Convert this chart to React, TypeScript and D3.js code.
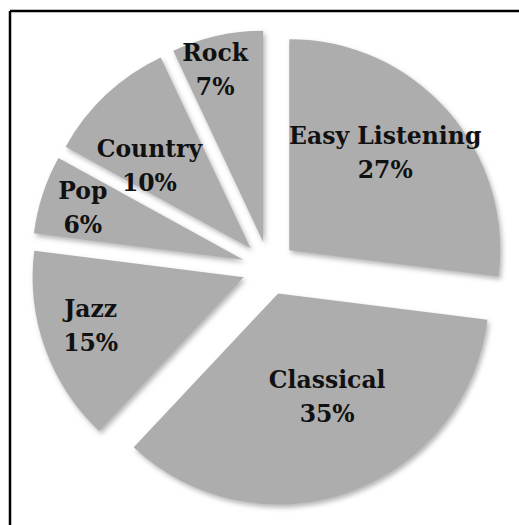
import React from "react";
import * as d3 from "d3";

const categories = ["Easy Listening", "Classical", "Jazz", "Pop", "Country", "Rock"];
const shares = [27, 35, 15, 6, 10, 7];
const percentLabels = ["27%", "35%", "15%", "6%", "10%", "7%"];

// layout (not data)
const W = 519;
const H = 525;
const CX = 269;
const CY = 268;
const R = 211;
const EXPLODE = 27;
const labelRadiusFrac = [0.65, 0.54, 0.76, 0.8, 0.62, 0.85];
const labelAngleShiftDeg = [-4.2, -5.7, 2.3, 0, -7.4, -2.9];

export default function App() {
  const pie = d3
    .pie<number>()
    .sort(null)
    .value((d) => d)
    .startAngle(0)
    .endAngle(2 * Math.PI);
  const arcs = pie(shares);
  const arcGen = d3.arc<d3.PieArcDatum<number>>().innerRadius(0).outerRadius(R);

  return (
    <svg
      width={W}
      height={H}
      style={{ position: "absolute", left: 0, top: 0, background: "#fff" }}
    >
      <defs>
        <filter id="sh" x="-10%" y="-10%" width="130%" height="130%">
          <feDropShadow dx="2" dy="3" stdDeviation="2.5" floodColor="#777" floodOpacity="0.55" />
        </filter>
      </defs>
      <rect x={0} y={0} width={W} height={H} fill="#fff" />
      <line x1={10} y1={11} x2={W} y2={11} stroke="#000" strokeWidth={2.5} />
      <line x1={10} y1={11} x2={10} y2={H} stroke="#000" strokeWidth={2.5} />
      {arcs.map((a, i) => {
        const mid = (a.startAngle + a.endAngle) / 2;
        const vx = CX + EXPLODE * Math.sin(mid);
        const vy = CY - EXPLODE * Math.cos(mid);
        const la = mid + (labelAngleShiftDeg[i] * Math.PI) / 180;
        const lr = labelRadiusFrac[i] * R;
        const lx = vx + lr * Math.sin(la);
        const ly = vy - lr * Math.cos(la);
        return (
          <g key={categories[i]}>
            <path
              d={arcGen(a) || ""}
              transform={`translate(${vx},${vy})`}
              fill="#adadad"
              filter="url(#sh)"
            />
            <text
              x={lx}
              y={ly}
              textAnchor="middle"
              fontFamily="'DejaVu Serif', serif"
              fontWeight="bold"
              fontSize={23.5}
              fill="#111"
            >
              <tspan x={lx} y={ly - 8}>{categories[i]}</tspan>
              <tspan x={lx} y={ly + 26}>{percentLabels[i]}</tspan>
            </text>
          </g>
        );
      })}
    </svg>
  );
}
